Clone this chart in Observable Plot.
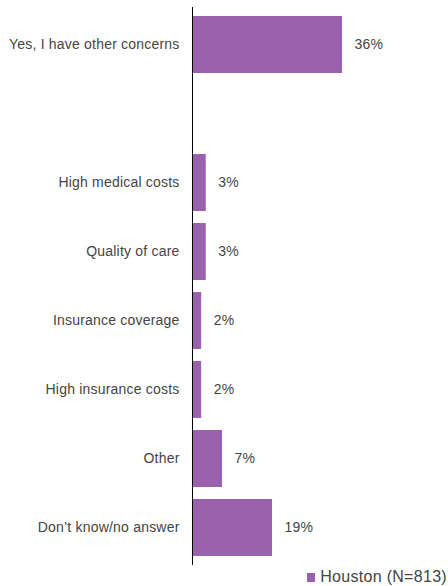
<!DOCTYPE html>
<html><head><meta charset="utf-8">
<script src="https://cdn.jsdelivr.net/npm/d3@7"></script>
<script src="https://cdn.jsdelivr.net/npm/@observablehq/plot@0.6"></script>
<style>
body{margin:0;background:#fff;font-family:"Liberation Sans",Arial,sans-serif;}
#legend{display:flex;justify-content:flex-end;align-items:center;height:20px;padding-right:1px;padding-top:1px;font-size:16px;color:#444;letter-spacing:0.3px;}
#legend .sw{width:8px;height:9px;background:#9a62ad;margin-right:5px;}
svg text{letter-spacing:0.2px;}
</style>
</head><body>
<div id="chart"></div>
<div id="legend"><span class="sw"></span><span>Houston (N=813)</span></div>
<script>
const categories = ["Yes, I have other concerns", " ", "High medical costs", "Quality of care", "Insurance coverage", "High insurance costs", "Other", "Don’t know/no answer"];
const values = [36, null, 3.3, 3.3, 2.2, 2.2, 7.2, 19.2];
const valueLabels = ["36%", "", "3%", "3%", "2%", "2%", "7%", "19%"];
const seriesName = "Houston (N=813)";
const barColor = "#9a62ad";

const data = categories.map((c, i) => ({category: c, value: values[i], label: valueLabels[i]})).filter(d => d.value != null);

const chart = Plot.plot({
  width: 448,
  height: 566,
  marginTop: 7,
  marginBottom: 1,
  marginLeft: 192,
  marginRight: 6,
  style: {fontFamily: "'Liberation Sans', Arial, sans-serif", fontSize: "14px", color: "#444", background: "#fff"},
  x: {domain: [0, 60], axis: null},
  y: {domain: categories, paddingInner: 0.18, paddingOuter: 0.1, label: null},
  marks: [
    Plot.barX(data, {x: "value", y: "category", fill: barColor}),
    Plot.text(data, {x: "value", y: "category", text: "label", textAnchor: "start", dx: 12, fill: "#444", fontSize: 14}),
    Plot.axisY({tickSize: 0, tickPadding: 13, label: null, fontSize: 14, fill: "#444"}),
    Plot.ruleX([0], {stroke: "#000", strokeWidth: 1})
  ]
});
document.getElementById("chart").appendChild(chart);
</script>
</body></html>
